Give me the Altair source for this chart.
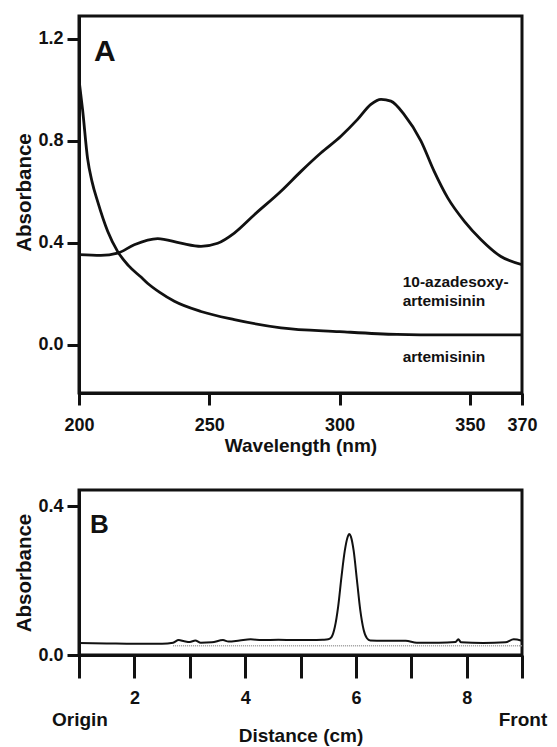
import altair as alt
import pandas as pd

# ---------------- Panel A: UV spectra ----------------
art_wl = [200, 201.4, 203.3, 205, 207.2, 211, 214.8, 219, 223.8, 226.4, 231,
          236.6, 246.8, 259.6, 277.5, 300, 322, 340, 370]
art_abs = [1.04, 0.92, 0.73, 0.64, 0.56, 0.445, 0.366, 0.31, 0.265, 0.24, 0.205,
           0.17, 0.13, 0.098, 0.066, 0.051, 0.040, 0.038, 0.038]

aza_wl = [200, 208.4, 214.8, 221.2, 230.2, 239.1, 246.8, 253.2, 259.6, 267.3,
          277.5, 285.2, 292.9, 300.5, 306.9, 312, 315.9, 319.7, 324.8, 331.2,
          336.3, 341.5, 347.9, 354.3, 361.9, 370]
aza_abs = [0.353, 0.350, 0.359, 0.392, 0.416, 0.398, 0.386, 0.398, 0.438, 0.51,
           0.602, 0.68, 0.753, 0.818, 0.884, 0.943, 0.963, 0.956, 0.903, 0.80,
           0.68, 0.576, 0.484, 0.412, 0.346, 0.314]

series_names = ["artemisinin", "10-azadesoxy-artemisinin"]

# ---------------- Panel B: TLC scan ----------------
tlc_dist = [1.0, 1.5, 2.0, 2.5, 2.7, 2.8, 2.9, 3.0, 3.1, 3.2, 3.4, 3.6, 3.7,
            3.9, 4.1, 4.3, 4.6, 4.9, 5.2, 5.4, 5.5, 5.56, 5.62, 5.68, 5.74,
            5.80, 5.85, 5.88, 5.91, 5.96, 6.02, 6.08, 6.14, 6.20, 6.26, 6.5,
            6.9, 7.1, 7.5, 7.8, 7.85, 7.9, 8.3, 8.7, 8.85, 9.0]
tlc_abs = [0.032, 0.031, 0.030, 0.030, 0.033, 0.040, 0.037, 0.035, 0.039,
           0.033, 0.034, 0.040, 0.036, 0.039, 0.042, 0.040, 0.041, 0.040,
           0.040, 0.041, 0.042, 0.048, 0.075, 0.13, 0.21, 0.28, 0.316, 0.325,
           0.318, 0.28, 0.20, 0.12, 0.068, 0.045, 0.039, 0.038, 0.038, 0.033,
           0.033, 0.035, 0.042, 0.034, 0.032, 0.034, 0.042, 0.038]
base_dist = [2.7, 9.0]
base_abs = [0.025, 0.025]

FONT = "Liberation Sans"
INK = "#111111"

dfA = pd.concat([
    pd.DataFrame({"wl": art_wl, "abs": art_abs, "series": series_names[0]}),
    pd.DataFrame({"wl": aza_wl, "abs": aza_abs, "series": series_names[1]}),
])
dfB = pd.DataFrame({"dist": tlc_dist, "abs": tlc_abs})
dfBase = pd.DataFrame({"dist": base_dist, "abs": base_abs})

xA_scale = alt.Scale(domain=[200, 370], nice=False, zero=False)
yA_scale = alt.Scale(domain=[-0.19, 1.29], nice=False, zero=False)

xA = alt.X("wl:Q", scale=xA_scale,
           axis=alt.Axis(values=[200, 250, 300, 350, 370], title="Wavelength (nm)",
                         format="d", tickSize=12, labelPadding=11, titlePadding=2))
yA = alt.Y("abs:Q", scale=yA_scale,
           axis=alt.Axis(values=[0, 0.4, 0.8, 1.2], format=".1f", title="Absorbance",
                         tickSize=12, labelPadding=4, titlePadding=3,
                         titleFontSize=20.5, titleY=176))

linesA = alt.Chart(dfA).mark_line(color=INK, strokeWidth=2.8, interpolate="monotone",
                                  clip=True).encode(x=xA, y=yA, detail="series:N")


def note(x, y, text, size, xs, ys, weight="bold"):
    return alt.Chart(alt.Data(values=[{}])).mark_text(
        text=text, align="left", baseline="alphabetic", font=FONT,
        fontSize=size, fontWeight=weight, color=INK
    ).encode(x=alt.datum(x, scale=xs), y=alt.datum(y, scale=ys))


panelA = alt.layer(
    linesA,
    note(205.8, 1.114, "A", 30, xA_scale, yA_scale),
    note(324.2, 0.228, "10-azadesoxy-", 15.5, xA_scale, yA_scale),
    note(324.2, 0.150, "artemisinin", 15.5, xA_scale, yA_scale),
    note(324.2, -0.067, "artemisinin", 15.5, xA_scale, yA_scale),
).properties(width=443, height=377)

xB_scale = alt.Scale(domain=[1, 9], nice=False, zero=False)
yB_scale = alt.Scale(domain=[0, 0.443], nice=False, zero=False)

xB = alt.X("dist:Q", scale=xB_scale,
           axis=alt.Axis(values=[1, 2, 3, 4, 5, 6, 7, 8, 9], title="Distance (cm)",
                         format="d",
                         labelExpr="datum.value % 2 == 0 ? datum.label : ''",
                         tickSize=23, labelPadding=11, titlePadding=19))
yB = alt.Y("abs:Q", scale=yB_scale,
           axis=alt.Axis(values=[0, 0.4], format=".1f", title="Absorbance",
                         tickSize=12, labelPadding=4, titlePadding=3,
                         titleFontSize=20.5))

baseB = alt.Chart(dfBase).mark_line(color="#9a9a9a", strokeWidth=1.5,
                                    strokeDash=[1, 1]).encode(x=xB, y=yB)
traceB = alt.Chart(dfB).mark_line(color=INK, strokeWidth=2, clip=True,
                                  interpolate="monotone").encode(x=xB, y=yB)


def edge_label(x, text, dx):
    return alt.Chart(alt.Data(values=[{}])).mark_text(
        text=text, align="center", baseline="alphabetic", font=FONT,
        fontSize=19, fontWeight="bold", color=INK, dx=dx
    ).encode(x=alt.datum(x, scale=xB_scale), y=alt.value(236))


panelB = alt.layer(
    baseB, traceB,
    note(1.2, 0.328, "B", 26, xB_scale, yB_scale),
    edge_label(1, "Origin", 1),
    edge_label(9, "Front", 1),
).properties(width=443, height=165)

chart = alt.vconcat(panelA, panelB, spacing=31).properties(
    padding={"left": 5, "top": 6, "right": 0, "bottom": 0},
    background="white",
).configure_view(
    stroke=INK, strokeWidth=3
).configure_axis(
    domainColor=INK, domainWidth=3, tickColor=INK, tickWidth=3, grid=False,
    labelFont=FONT, labelFontSize=18, labelFontWeight="bold", labelColor=INK,
    titleFont=FONT, titleFontSize=19, titleFontWeight="bold", titleColor=INK,
    labelFlush=False, labelOverlap=False
)

chart.save("out.html", embed_options={"renderer": "svg", "actions": False})
